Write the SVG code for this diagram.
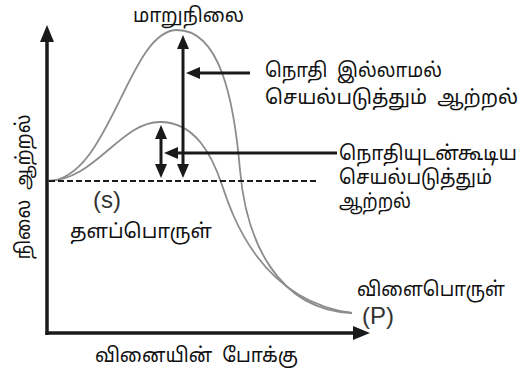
<svg xmlns="http://www.w3.org/2000/svg" width="529" height="372" viewBox="0 0 529 372">
<style>
.t{font-family:"Noto Sans Tamil","Lohit Tamil","Noto Sans","DejaVu Sans",sans-serif;font-size:20px;fill:#111}
.l{font-family:"Liberation Sans",Arial,sans-serif;font-size:24px;fill:#333}
.c{fill:none;stroke:#8c8c8c;stroke-width:1.8}
.ax{stroke:#1a1a1a;stroke-width:3.5;fill:none}
.ar{stroke:#1a1a1a;stroke-width:3;fill:none}
</style>
<defs>
<marker id="a" viewBox="0 0 17 14" refX="9" refY="7" markerWidth="17" markerHeight="14" markerUnits="userSpaceOnUse" orient="auto-start-reverse"><path d="M0,0L17,7L0,14z" fill="#1a1a1a"/></marker>
<marker id="b" viewBox="0 0 14 12" refX="7" refY="6" markerWidth="14" markerHeight="12" markerUnits="userSpaceOnUse" orient="auto-start-reverse"><path d="M0,0L14,6L0,12z" fill="#1a1a1a"/></marker>
</defs>
<g id="curves">
<path class="c" d="M47,181 C110,181 128,30 177,30 C220,30 234,100 240,170 C246,240 277,310 352,313"/>
<path class="c" d="M47,181 C95,181 120,122 160,122 C195,122 212,155 222,185 C232,215 260,300 352,313"/>
</g>
<g id="axes">
<path class="ax" d="M47,335 V33" marker-end="url(#a)"/>
<path class="ax" d="M45.5,333 H362" marker-end="url(#a)"/>
<path d="M49,181 H318" stroke="#1a1a1a" stroke-width="2" stroke-dasharray="6,3" fill="none"/>
</g>
<g id="connectors">
<path class="ar" d="M183,42 V171" marker-start="url(#b)" marker-end="url(#b)"/>
<path class="ar" d="M161,132 V171" marker-start="url(#b)" marker-end="url(#b)"/>
<path class="ar" d="M250,73 H193" marker-end="url(#b)"/>
<path class="ar" d="M337,153 H171" marker-end="url(#b)"/>
</g>
<g id="labels">
<text class="t" x="133" y="22" textLength="111" lengthAdjust="spacingAndGlyphs">மாறுநிலை</text>
<text class="t" x="265" y="77" textLength="177" lengthAdjust="spacingAndGlyphs">நொதி&#160;&#160;இல்லாமல்</text>
<text class="t" x="265" y="104" textLength="253" lengthAdjust="spacingAndGlyphs">செயல்படுத்தும்&#160;&#160;ஆற்றல்</text>
<text class="t" x="339" y="160" textLength="178" lengthAdjust="spacingAndGlyphs">நொதியுடன்கூடிய</text>
<text class="t" x="339" y="184" textLength="153" lengthAdjust="spacingAndGlyphs">செயல்படுத்தும்</text>
<text class="t" x="339" y="208" textLength="72" lengthAdjust="spacingAndGlyphs">ஆற்றல்</text>
<text class="l" x="93" y="208">(s)</text>
<text class="t" x="70" y="238" textLength="142" lengthAdjust="spacingAndGlyphs">தளப்பொருள்</text>
<text class="t" x="357" y="296" textLength="148" lengthAdjust="spacingAndGlyphs">விளைபொருள்</text>
<text class="l" x="362" y="324">(P)</text>
<text class="t" x="95" y="362" textLength="203" lengthAdjust="spacingAndGlyphs">வினையின்&#160;&#160;போக்கு</text>
<text class="t" transform="translate(30,187) rotate(-90)" text-anchor="middle" textLength="145" lengthAdjust="spacingAndGlyphs">நிலை&#160;&#160;ஆற்றல்</text>
</g>
</svg>
